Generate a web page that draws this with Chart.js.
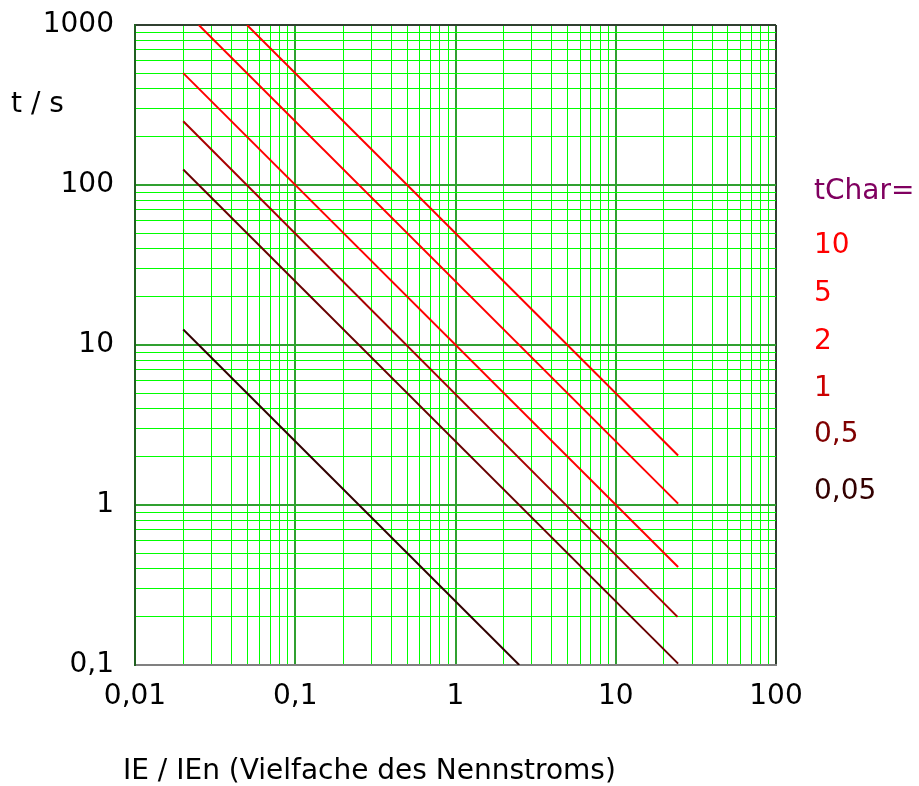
<!DOCTYPE html>
<html>
<head>
<meta charset="utf-8">
<script src="https://cdn.jsdelivr.net/npm/chart.js@4"></script>
<style>
  body { margin: 0; background: #fff; }
  #wrap { position: relative; width: 919px; height: 786px; font-family: "DejaVu Sans", sans-serif; }
  canvas { position: absolute; left: 0; top: 0; }
  .lbl { position: absolute; font-size: 28px; line-height: 30px; white-space: nowrap; }
</style>
</head>
<body>
<div id="wrap">
  <canvas id="chart" width="919" height="786"></canvas>
  <div class="lbl" style="left:11px; top:88px; color:#000">t / s</div>
  <div class="lbl" style="left:123px; top:755px; color:#000">IE / IEn (Vielfache des Nennstroms)</div>
  <div id="legend"></div>
</div>
<script>
// ===== Data =====
const tCharLabels = ["10", "5", "2", "1", "0,5", "0,05"];
// current multiples (x) at start and end of each curve
const curveI = [[0.05, 24.5], [0.025, 24.5], [0.02, 24.5], [0.02, 24.3], [0.02, 24.5], [0.02, 2.5]];
// tripping times (y, seconds) at start and end of each curve
const curveT = [[1000, 2.04], [1000, 1.02], [500, 0.41], [250, 0.2], [125, 0.102], [12.5, 0.1]];
const lineColors = ["#ff0000", "#ff0000", "#ff0000", "#a80000", "#680000", "#300000"];
const legendColors = ["#ff0000", "#ff0000", "#ff0000", "#cc0000", "#800000", "#330000"];
const legendTop = [229, 277, 325, 372, 418, 475];

// ===== Grid helpers =====
function isDecade(v) {
    const l = Math.log10(v);
    return Math.abs(l - Math.round(l)) < 1e-9;
}
// keep only 1..9 x 10^n ticks (Chart.js 4.5 also adds 1.5 x 10^n)
function wholeSignificand(v) {
    const s = v / Math.pow(10, Math.floor(Math.log10(v) + 1e-9));
    return Math.abs(s - Math.round(s)) < 1e-6;
}
function gridColor(ctx, max) {
    const v = ctx.tick.value;
    if (Math.abs(v - max) < 1e-9) return "#304030";
    return isDecade(v) ? "#30a030" : "#00ff00";
}
function decadeLabel(v) {
    return isDecade(v) ? String(v).replace(".", ",") : "";
}

const datasets = tCharLabels.map((label, i) => ({
    label: label,
    data: curveI[i].map((x, j) => ({ x: x, y: curveT[i][j] })),
    borderColor: lineColors[i],
    borderWidth: 2,
    pointRadius: 0,
    fill: false
}));

new Chart(document.getElementById("chart"), {
    type: "line",
    data: { datasets: datasets },
    options: {
        responsive: false,
        animation: false,
        layout: { padding: { top: 25, right: 143, left: 0, bottom: 0 } },
        plugins: { legend: { display: false }, tooltip: { enabled: false } },
        scales: {
            x: {
                type: "logarithmic",
                min: 0.01,
                max: 100,
                afterBuildTicks: s => { s.ticks = s.ticks.filter(t => wholeSignificand(t.value)); },
                afterFit: s => { s.height = 121; s.paddingLeft = 0; s.paddingRight = 0; },
                grid: {
                    color: ctx => gridColor(ctx, 100),
                    lineWidth: ctx => isDecade(ctx.tick.value) ? 2 : 1,
                    drawTicks: false
                },
                border: { display: true, color: "#808080", width: 2 },
                ticks: {
                    autoSkip: false,
                    maxRotation: 0,
                    padding: 15,
                    color: "#000",
                    font: { family: "DejaVu Sans", size: 28 },
                    callback: v => decadeLabel(v)
                }
            },
            y: {
                type: "logarithmic",
                min: 0.1,
                max: 1000,
                afterBuildTicks: s => { s.ticks = s.ticks.filter(t => wholeSignificand(t.value)); },
                afterFit: s => { s.width = 135; s.paddingTop = 0; s.paddingBottom = 0; },
                grid: {
                    color: ctx => gridColor(ctx, 1000),
                    lineWidth: ctx => isDecade(ctx.tick.value) ? 2 : 1,
                    drawTicks: false
                },
                border: { display: true, color: "#206020", width: 2 },
                ticks: {
                    autoSkip: false,
                    padding: 21,
                    color: "#000",
                    font: { family: "DejaVu Sans", size: 28 },
                    callback: v => decadeLabel(v)
                }
            }
        }
    }
});

// ===== Legend as text on the right =====
const legendEl = document.getElementById("legend");
const head = document.createElement("div");
head.className = "lbl";
head.style.cssText = "left:814px; top:175px; color:#800060";
head.textContent = "tChar=";
legendEl.appendChild(head);
tCharLabels.forEach((label, i) => {
    const d = document.createElement("div");
    d.className = "lbl";
    d.style.cssText = `left:814px; top:${legendTop[i]}px; color:${legendColors[i]}`;
    d.textContent = label;
    legendEl.appendChild(d);
});
</script>
</body>
</html>
